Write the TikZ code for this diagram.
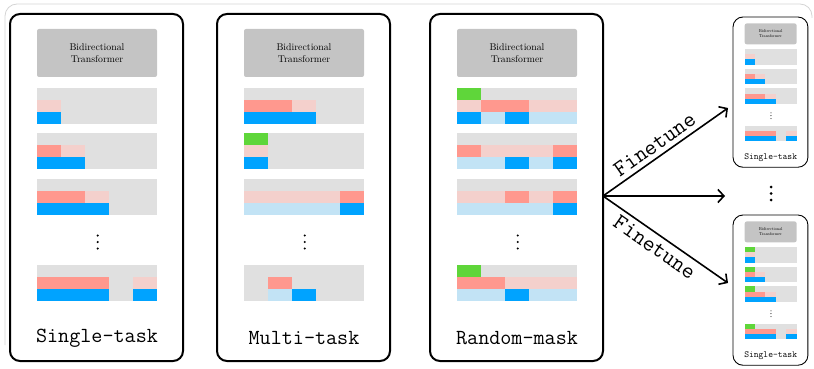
\documentclass[tikz,border=0pt]{standalone}
\usetikzlibrary{arrows.meta}
\definecolor{gy}{RGB}{224,224,224}
\definecolor{trgray}{RGB}{196,196,196}
\definecolor{sa}{RGB}{255,152,142}
\definecolor{lp}{RGB}{244,208,204}
\definecolor{bl}{RGB}{0,163,255}
\definecolor{lb}{RGB}{194,227,245}
\definecolor{gr}{RGB}{95,214,58}
\definecolor{framegray}{RGB}{212,212,212}
\newcommand\myrow[4]{%
  \fill[gy] (27,#1) rectangle ++(120,36);
  \foreach \c [count=\i from 0] in {#2}{\fill[\c] ({27+24*\i},#1) rectangle ++(24,12.2);}
  \foreach \c [count=\i from 0] in {#3}{\fill[\c] ({27+24*\i},{#1+12}) rectangle ++(24,12.2);}
  \foreach \c [count=\i from 0] in {#4}{\fill[\c] ({27+24*\i},{#1+24}) rectangle ++(24,12);}
}
\newcommand\mypanel[3]{%
  \node[panelbox] (#1) at (86.5,173.5) {};
  \node[trbox] (#1t) at (87,39) {Bidirectional\\Transformer};
  #3
  \fill (87.7,221.5) circle (1.2) (87.7,228) circle (1.2) (87.7,234.5) circle (1.2);
  \node[lab] (#1l) at (87,324) {#2};
}
\newcommand\singlerows[1]{%
  \myrow{74}{#1}{lp,gy,gy,gy,gy}{bl,gy,gy,gy,gy}
  \myrow{119}{#1}{sa,lp,gy,gy,gy}{bl,bl,gy,gy,gy}
  \myrow{165}{#1}{sa,sa,lp,gy,gy}{bl,bl,bl,gy,gy}
  \myrow{251}{#1}{sa,sa,sa,gy,lp}{bl,bl,bl,gy,bl}
}
\tikzset{
  panelbox/.style={draw=black, line width=2pt, rounded corners=10pt, minimum width=173pt, minimum height=347pt, inner sep=0pt},
  trbox/.style={fill=trgray, rounded corners=2pt, minimum width=120pt, minimum height=48pt, align=center, inner sep=0pt, font=\fontsize{9.8}{11.5}\selectfont},
  lab/.style={font=\ttfamily\fontsize{21.5}{24}\selectfont, inner sep=0pt},
  arr/.style={line width=1.6pt, -{Straight Barb[length=6pt,width=13pt]}},
  ft/.style={font=\ttfamily\fontsize{23}{26}\selectfont, inner sep=4.5pt}
}
\begin{document}
\begin{tikzpicture}[x=1pt,y=-1pt]
\useasboundingbox (0,0) rectangle (814,369);
\draw[framegray, line width=0.8pt, rounded corners=12pt] (5,345) -- (5,4) -- (812,4) -- (812,18);
% panel 1
\begin{scope}[shift={(10,14)}]
\mypanel{p1}{Single-task}{\singlerows{gy,gy,gy,gy,gy}}
\end{scope}
% panel 2
\begin{scope}[shift={(217,14)}]
\mypanel{p2}{Multi-task}{%
  \myrow{74}{gy,gy,gy,gy,gy}{sa,sa,lp,gy,gy}{bl,bl,bl,gy,gy}
  \myrow{119}{gr,gy,gy,gy,gy}{lp,gy,gy,gy,gy}{bl,gy,gy,gy,gy}
  \myrow{165}{gy,gy,gy,gy,gy}{lp,lp,lp,lp,sa}{lb,lb,lb,lb,bl}
  \myrow{251}{gy,gy,gy,gy,gy}{gy,sa,gy,gy,gy}{gy,lb,bl,gy,gy}
}
\end{scope}
% panel 3
\begin{scope}[shift={(430,14)}]
\mypanel{p3}{Random-mask}{%
  \myrow{74}{gr,gy,gy,gy,gy}{lp,sa,sa,lp,lp}{bl,lb,bl,lb,lb}
  \myrow{119}{gy,gy,gy,gy,gy}{sa,lp,lp,lp,sa}{lb,lb,bl,lb,bl}
  \myrow{165}{gy,gy,gy,gy,gy}{lp,lp,sa,lp,sa}{lb,lb,lb,lb,bl}
  \myrow{251}{gr,gy,gy,gy,gy}{sa,sa,lp,lp,lp}{lb,lb,bl,lb,lb}
}
\end{scope}
% small panels
\begin{scope}[shift={(733,17)}, scale=0.433, transform shape, panelbox/.append style={line width=0.9pt}]
\mypanel{s1}{Single-task}{\singlerows{gy,gy,gy,gy,gy}}
\end{scope}
\begin{scope}[shift={(733,215)}, scale=0.433, transform shape, panelbox/.append style={line width=0.9pt}]
\mypanel{s2}{Single-task}{\singlerows{gr,gy,gy,gy,gy}}
\end{scope}
\fill (771,187) circle (1.5) (771,193.5) circle (1.5) (771,200) circle (1.5);
% arrows
\coordinate (src) at (603,196);
\coordinate (up) at (728,108);
\coordinate (mid) at (725,196);
\coordinate (dn) at (728,283);
\draw[arr] (src) -- node[ft, above, sloped, pos=0.47] {Finetune} (up);
\draw[arr] (src) -- (mid);
\draw[arr] (src) -- node[ft, below, sloped, pos=0.47] {Finetune} (dn);
\end{tikzpicture}
\end{document}
